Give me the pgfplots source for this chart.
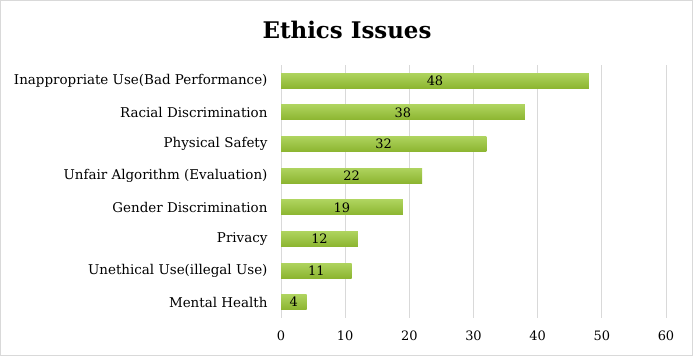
\documentclass[border=0pt]{standalone}
\usepackage{fontspec}
\setmainfont{DejaVu Serif}
\usepackage{pgfplots}
\pgfplotsset{compat=1.18}
\definecolor{GridGray}{HTML}{D9D9D9}
\definecolor{BarTop}{HTML}{AED35E}
\definecolor{BarBot}{HTML}{8CB530}
\pgfplotsset{greenbar/.style={draw=none,top color=BarTop,bottom color=BarBot,bar shift=0pt}}
\begin{document}
\begin{tikzpicture}
\path[use as bounding box] (0,0) rectangle (693bp,356bp);
\draw[GridGray,line width=0.8bp] (0.5bp,0.5bp) rectangle (692.5bp,355.5bp);
\node[font=\fontsize{23}{26}\selectfont\bfseries] at (347bp,326bp) {Ethics Issues};
\begin{axis}[at={(281bp,38bp)},anchor=south west,scale only axis,
  width=385bp,height=253bp,
  xbar,bar width=15bp,
  xmin=0,xmax=60,ymin=-0.5,ymax=7.5,y dir=reverse,
  xtick={0,10,...,60},ytick={0,...,7},
  yticklabels={Inappropriate Use(Bad Performance),Racial Discrimination,Physical Safety,Unfair Algorithm (Evaluation),Gender Discrimination,Privacy,Unethical Use(illegal Use),Mental Health},
  axis line style={draw=none},major tick length=0pt,
  xmajorgrids,grid style={GridGray,line width=0.8bp},
  tick label style={font=\fontsize{13}{15}\selectfont},
  yticklabel style={font=\fontsize{13.5}{15}\selectfont},
  /pgf/number format/assume math mode=true,
  xticklabel style={yshift=-9bp},yticklabel style={xshift=-10bp},
  nodes near coords,
  visualization depends on={x \as \rawx},
  every node near coord/.append style={anchor=center,font=\fontsize{13}{15}\selectfont,
    shift={(axis direction cs:-\rawx/2,0)}},
  clip=false]
\addplot[greenbar] coordinates {(48,0)};
\addplot[greenbar] coordinates {(38,1)};
\addplot[greenbar] coordinates {(32,2)};
\addplot[greenbar] coordinates {(22,3)};
\addplot[greenbar] coordinates {(19,4)};
\addplot[greenbar] coordinates {(12,5)};
\addplot[greenbar] coordinates {(11,6)};
\addplot[greenbar] coordinates {(4,7)};
\end{axis}
\end{tikzpicture}
\end{document}
